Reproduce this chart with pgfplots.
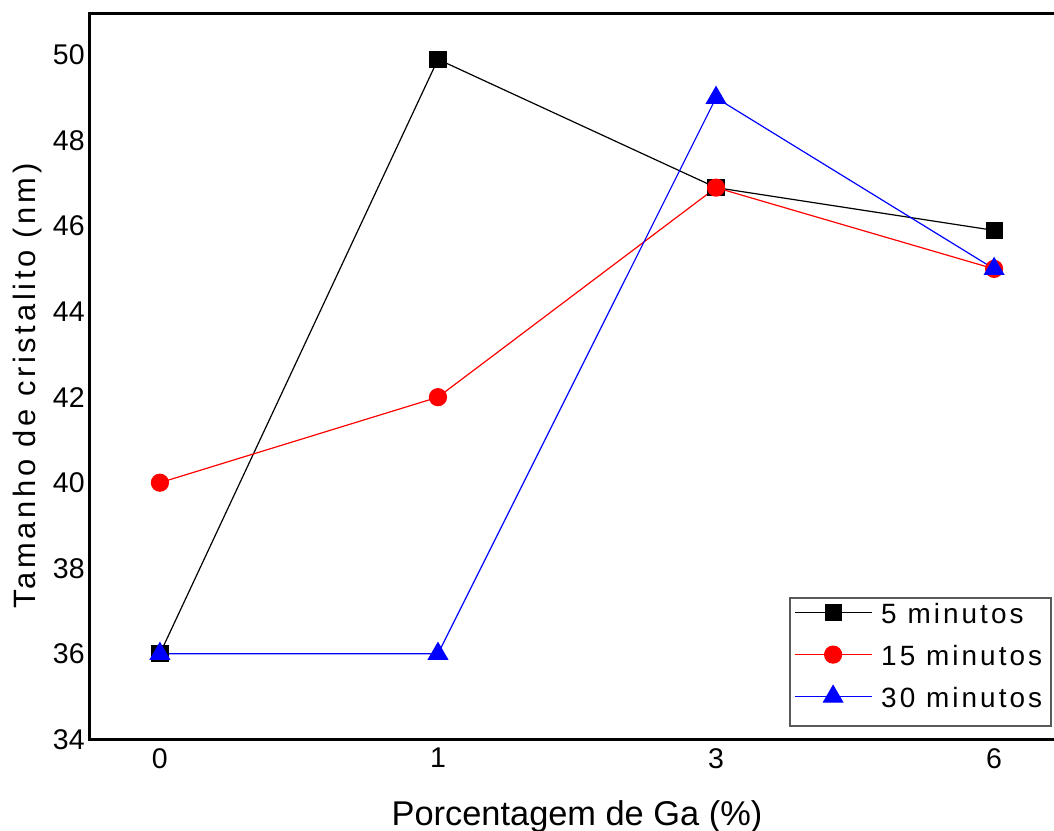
\documentclass[border=0pt]{standalone}
\usepackage{fontspec}
\setmainfont{Liberation Sans}
\newfontfamily\legfont[LetterSpace=11]{Liberation Sans}
\newfontfamily\ylabfont[LetterSpace=12]{Liberation Sans}
\usepackage{pgfplots}
\pgfplotsset{compat=1.18}
\begin{document}
\begin{tikzpicture}[x=1bp,y=1bp]
\begin{axis}[
  at={(0,0)}, anchor=south west,
  scale only axis, width=488bp, height=362.65bp,
  xmin=-0.255, xmax=3.255, ymin=34, ymax=50.96,
  xtick={0,1,2,3}, xticklabels={0,1,3,6},
  ytick={34,36,...,50},
  major tick length=0pt,
  axis line style={line width=1.5bp},
  /pgf/number format/assume math mode=true,
  tick label style={font=\fontsize{14.3}{16}\selectfont},
  xticklabel style={inner sep=0pt, anchor=north, yshift=-4.3bp},
  yticklabel style={inner sep=0pt, anchor=east, xshift=-2bp},
  xlabel={Porcentagem de Ga (\%)},
  ylabel={Tamanho de cristalito (nm)},
  x label style={font=\fontsize{17.25}{19}\selectfont, at={(axis description cs:0.5,0)}, anchor=base, yshift=-42.85bp},
  y label style={font=\ylabfont\fontsize{15.5}{17}\selectfont, at={(axis description cs:-0.0548,0.487)}, anchor=base},
  legend image code/.code={\draw[mark repeat=2,mark phase=2] plot coordinates {(0bp,3.8bp) (19.25bp,3.8bp) (38.5bp,3.8bp)};},
  legend cell align=left,
  legend style={at={(axis description cs:1,0)}, anchor=south east, xshift=-6.5bp, yshift=6.15bp,
    draw=black!65, line width=0.8bp, inner ysep=0.5bp, inner xsep=2bp, row sep=0bp, column sep=2bp,
    font=\legfont\fontsize{14}{16}\selectfont,
    nodes={inner xsep=2.5bp, inner ysep=0bp, text height=12bp, text depth=9bp}},
]
\addplot[black, line width=0.6bp, mark=square*, mark size=4bp, mark options={solid, fill=black}]
  coordinates {(0,36) (1,49.9) (2,46.9) (3,45.9)};
\addlegendentry{5 minutos}
\addplot[red, line width=0.6bp, mark=*, mark size=4.25bp, mark options={solid, fill=red}]
  coordinates {(0,40) (1,42) (2,46.9) (3,45)};
\addlegendentry{15 minutos}
\addplot[blue, line width=0.6bp, mark=triangle*, mark size=5.5bp, mark options={solid, fill=blue}]
  coordinates {(0,36) (1,36) (2,49) (3,45)};
\addlegendentry{30 minutos}
\end{axis}
\pgfresetboundingbox
\useasboundingbox (-44.5bp,-45.85bp) rectangle (482.5bp,369.65bp);
\end{tikzpicture}
\end{document}
